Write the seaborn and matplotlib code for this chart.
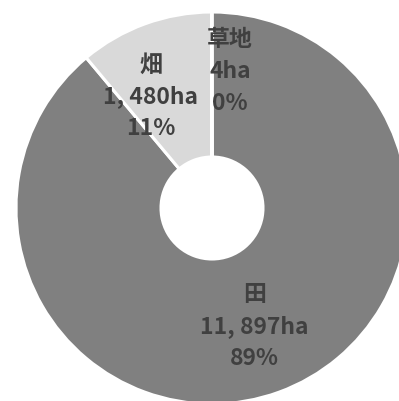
import matplotlib
matplotlib.use("Agg")
import matplotlib.pyplot as plt
import numpy as np
import seaborn as sns

# Land use breakdown (ha)
categories = ["田", "畑", "草地"]
areas_ha = [11897, 1480, 4]
colors = ["#808080", "#d9d9d9", "#a6a6a6"]
# Per-label nudges (pixels) from the ring's mid-line
label_nudge = [(0, -2), (-19, -5), (18, 13)]

sns.set_theme(style="white")
plt.rcParams["font.family"] = ["Noto Sans CJK JP", "DejaVu Sans"]

W, H = 399, 401
fig = plt.figure(figsize=(W / 100, H / 100), dpi=100)
ax = fig.add_axes([0, 0, 1, 1])

cx, cy = 212, H - 208
r_out, r_in = 196, 51
width = r_out - r_in

wedges, _ = ax.pie(
    areas_ha,
    colors=colors,
    startangle=90,
    counterclock=False,
    radius=r_out,
    center=(cx, cy),
    frame=True,
    wedgeprops=dict(width=width, edgecolor="white", linewidth=2.2),
)
ax.set_xlim(0, W)
ax.set_ylim(0, H)
ax.set_aspect("equal")
ax.axis("off")

total = sum(areas_ha)
r_mid = (r_out + r_in) / 2
for w, name, val, (nx, ny) in zip(wedges, categories, areas_ha, label_nudge):
    ang = np.deg2rad((w.theta1 + w.theta2) / 2)
    x = cx + r_mid * np.cos(ang) + nx
    y = cy + r_mid * np.sin(ang) + ny
    pct = round(val / total * 100)
    ax.text(x, y, f"{name}\n{val:,}ha\n{pct}%".replace(",", ", "),
            ha="center", va="center", fontsize=16.5, fontweight="bold",
            color="#404040", linespacing=1.5)

fig.savefig("out.png", dpi=100)
